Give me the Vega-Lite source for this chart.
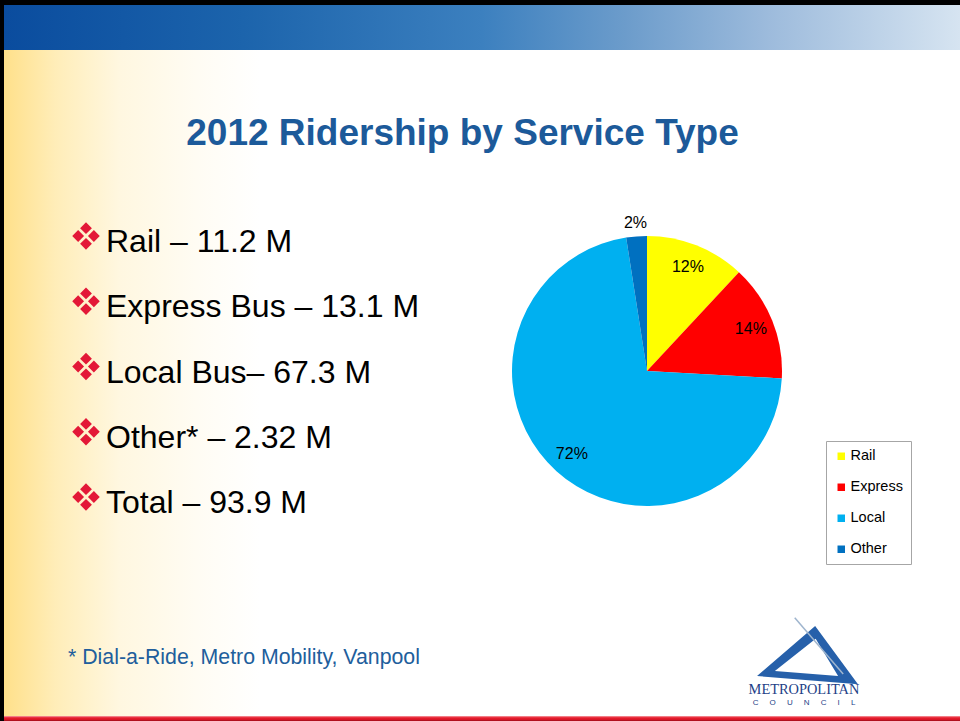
{
  "$schema": "https://vega.github.io/schema/vega-lite/v6.json",
  "padding": 0,
  "autosize": {"type": "pad"},
  "background": "white",
  "config": {
    "view": {"stroke": null},
    "text": {"font": "Liberation Sans"},
    "concat": {"spacing": 0}
  },
  "datasets": {
    "ridership": [
      {"service": "Rail", "riders": 11.2, "share": "12%", "rank": 1},
      {"service": "Express", "riders": 13.1, "share": "14%", "rank": 2},
      {"service": "Local", "riders": 67.3, "share": "72%", "rank": 3},
      {"service": "Other", "riders": 2.32, "share": "2%", "rank": 4}
    ],
    "bullets": [
      {"line": "Rail – 11.2 M"},
      {"line": "Express Bus – 13.1 M"},
      {"line": "Local Bus– 67.3 M"},
      {"line": "Other* – 2.32 M"},
      {"line": "Total – 93.9 M"}
    ]
  },
  "bounds": "full",
  "spacing": 0,
  "vconcat": [
    {
      "width": 960,
      "height": 50,
      "data": {"values": [{}]},
      "layer": [
        {"mark": {"type": "rect", "x": 0, "x2": "width", "y": 0, "y2": "height", "fill": "black"}},
        {"mark": {"type": "rect", "x": 4, "x2": "width", "y": 5, "y2": "height",
          "fill": {"gradient": "linear", "x1": 0, "y1": 0, "x2": 1, "y2": 0,
            "stops": [
              {"offset": 0, "color": "#0A4C9E"},
              {"offset": 0.25, "color": "#1C64AC"},
              {"offset": 0.5, "color": "#3C80BF"},
              {"offset": 0.65, "color": "#6C9CCB"},
              {"offset": 0.8, "color": "#9DBBDC"},
              {"offset": 1, "color": "#D6E4F1"}
            ]}}}
      ]
    },
    {
      "bounds": "flush",
      "spacing": 0,
      "hconcat": [
        {
          "width": 512,
          "height": 666,
          "layer": [
            {"data": {"values": [{}]},
             "mark": {"type": "rect", "x": 4, "x2": 260, "y": 0, "y2": "height",
              "fill": {"gradient": "linear", "x1": 0, "y1": 0, "x2": 1, "y2": 0,
                "stops": [
                  {"offset": 0, "color": "#FFE08A"},
                  {"offset": 0.2, "color": "#FFEDB8"},
                  {"offset": 0.45, "color": "#FFF7E0"},
                  {"offset": 0.75, "color": "#FFFCF3"},
                  {"offset": 1, "color": "#FFFFFF"}
                ]}}},
            {"data": {"values": [{}]},
             "mark": {"type": "rect", "x": 0, "x2": 4, "y": 0, "y2": "height", "fill": "black"}},
            {"data": {"values": [{}]},
             "mark": {"type": "text", "text": "2012 Ridership by Service Type", "x": 462.5, "y": 95,
              "align": "center", "baseline": "alphabetic", "fontSize": 37, "fontWeight": "bold", "color": "#1C5A9A"}},
            {"data": {"name": "bullets"},
             "mark": {"type": "point",
              "shape": "M0,-0.98L0.42,-0.56L0,-0.14L-0.42,-0.56ZM0.98,0L0.56,0.42L0.14,0L0.56,-0.42ZM0,0.98L0.42,0.56L0,0.14L-0.42,0.56ZM-0.98,0L-0.56,0.42L-0.14,0L-0.56,-0.42Z",
              "size": 790, "filled": true, "color": "#E31837", "strokeWidth": 0, "opacity": 1, "x": 86, "yOffset": -16},
             "encoding": {
               "y": {"field": "line", "type": "ordinal", "sort": null, "axis": null,
                     "scale": {"type": "point", "range": [202, 463], "padding": 0}}
             }},
            {"data": {"name": "bullets"},
             "mark": {"type": "text", "x": 106, "align": "left", "baseline": "alphabetic", "fontSize": 32, "color": "black"},
             "encoding": {
               "y": {"field": "line", "type": "ordinal", "sort": null, "axis": null,
                     "scale": {"type": "point", "range": [202, 463], "padding": 0}},
               "text": {"field": "line"}
             }},
            {"data": {"values": [{}]},
             "mark": {"type": "text", "text": "* Dial-a-Ride, Metro Mobility, Vanpool", "x": 68, "y": 613.5,
              "align": "left", "baseline": "alphabetic", "fontSize": 21.3, "color": "#215E9C"}}
          ]
        },
        {
          "width": 270,
          "height": 642,
          "data": {"name": "ridership"},
          "encoding": {
            "theta": {"field": "riders", "type": "quantitative", "stack": true},
            "order": {"field": "rank", "type": "quantitative"}
          },
          "layer": [
            {"mark": {"type": "arc", "outerRadius": 135},
             "encoding": {
               "color": {"field": "service", "type": "nominal",
                 "scale": {"domain": ["Rail", "Express", "Local", "Other"], "range": ["#FFFF00", "#FF0000", "#00B0F0", "#0070C0"]},
                 "legend": {"orient": "none", "legendX": 826, "legendY": 441, "title": null,
                   "symbolType": "square", "symbolSize": 56, "symbolStrokeWidth": 0,
                   "labelFont": "Liberation Sans", "labelFontSize": 14.5, "labelColor": "black", "labelOffset": 2,
                   "rowPadding": 16, "padding": 8, "strokeColor": "#A6A6A6", "fillColor": "white"}}
             }},
            {"mark": {"type": "text", "radius": 112, "fontSize": 16, "color": "black"},
             "encoding": {
               "detail": {"field": "service", "type": "nominal"},
               "text": {"condition": {"test": "datum.service !== 'Other'", "field": "share"}, "value": ""}
             }},
            {"mark": {"type": "text", "radius": 148, "fontSize": 16, "color": "black"},
             "encoding": {
               "detail": {"field": "service", "type": "nominal"},
               "text": {"condition": {"test": "datum.service === 'Other'", "field": "share"}, "value": ""}
             }}
          ]
        },
        {
          "width": 178,
          "height": 666,
          "data": {"values": [{}]},
          "layer": [
            {"mark": {"type": "point", "shape": "M-0.99,0.49L0.15,-0.49L0.99,0.65ZM-0.64,0.39L0.6,0.49L0.16,-0.24Z",
              "size": 10404, "filled": true, "color": "#2660AA", "strokeWidth": 0, "opacity": 1, "x": 25.5, "y": 601}},
            {"mark": {"type": "point", "shape": "M-0.25,-0.65L0.7,0.45",
              "size": 10404, "filled": false, "color": "#9FB5CE", "strokeWidth": 1.5, "opacity": 1, "x": 25.5, "y": 601}},
            {"mark": {"type": "text", "text": "METROPOLITAN", "x": 22, "y": 644, "align": "center", "baseline": "alphabetic",
              "font": "Liberation Serif", "fontSize": 14.4, "color": "#1E3F87"}},
            {"mark": {"type": "text", "text": "C\u00a0\u00a0\u00a0\u00a0\u00a0O\u00a0\u00a0\u00a0\u00a0\u00a0U\u00a0\u00a0\u00a0\u00a0\u00a0N\u00a0\u00a0\u00a0\u00a0\u00a0C\u00a0\u00a0\u00a0\u00a0\u00a0I\u00a0\u00a0\u00a0\u00a0\u00a0L",
              "x": 22, "y": 655, "align": "center", "baseline": "alphabetic", "fontSize": 8, "color": "#1E3F87"}}
          ]
        }
      ]
    },
    {
      "width": 960,
      "height": 5,
      "data": {"values": [{}]},
      "layer": [
        {"mark": {"type": "rect", "x": 0, "x2": "width", "y": 0, "y2": "height",
          "fill": {"gradient": "linear", "x1": 0, "y1": 0, "x2": 0, "y2": 1,
            "stops": [
              {"offset": 0, "color": "#F5A3AA"},
              {"offset": 0.35, "color": "#E8202F"},
              {"offset": 0.8, "color": "#D41224"},
              {"offset": 1, "color": "#8C0F18"}
            ]}}},
        {"mark": {"type": "rect", "x": 0, "x2": 4, "y": 0, "y2": "height", "fill": "black"}}
      ]
    }
  ]
}
